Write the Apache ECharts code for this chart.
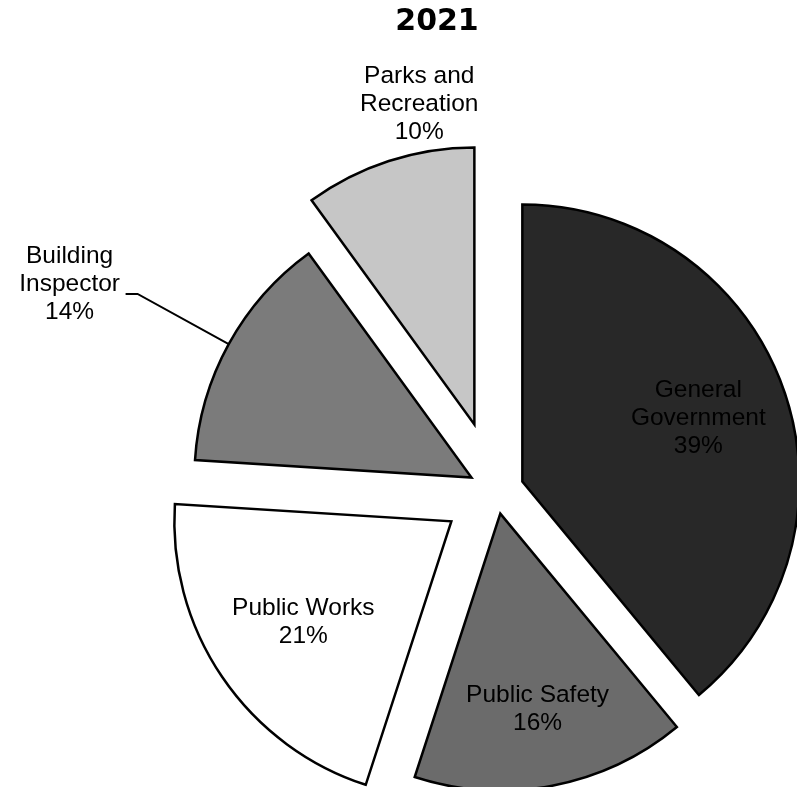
<!DOCTYPE html>
<html><head><meta charset="utf-8">
<script src="https://cdn.jsdelivr.net/npm/echarts@6/dist/echarts.min.js"></script>
<style>html,body{margin:0;padding:0;background:#fff;} #c{width:797px;height:787px;}</style>
</head><body><div id="c"></div>
<script>
// ---- data ----
const chartTitle = '2021';
const categories = ['General\nGovernment', 'Public Safety', 'Public Works', 'Building\nInspector', 'Parks and\nRecreation'];
const values = [39, 16, 21, 14, 10];

// ---- styles ----
const colors = ['#282828', '#6b6b6b', '#ffffff', '#7b7b7b', '#c6c6c6'];
const explode = [28, 23, 54, 28, 70];
const labelCfg = [
  { pos: 'inside', dist: 184 },
  { pos: 'inside', dist: 196 },
  { pos: 'inside', dist: 176 },
  { pos: 'outside', len: 104, len2: 12, width: 102, padBottom: 20, line: true },
  { pos: 'outside', len: 60, len2: -115, width: 122, padBottom: 0, line: false }
];
const CENTER = [496, 491];
const R = 277;
const FONT = '"Liberation Sans", Arial, sans-serif';
const FS = 24.5;

const chart = echarts.init(document.getElementById('c'), null, { renderer: 'canvas' });
const transparentItem = { color: 'rgba(0,0,0,0)', borderWidth: 0 };
const series = [];

categories.forEach(function (cat, i) {
  // slice series: only slice i visible, exploded by its own offset
  series.push({
    type: 'pie', center: CENTER, radius: R, startAngle: 90, clockwise: true,
    selectedMode: 'single', selectedOffset: explode[i], silent: true,
    avoidLabelOverlap: false, animation: false,
    emphasis: { disabled: true, scale: false },
    label: { show: false }, labelLine: { show: false },
    data: values.map(function (v, j) {
      return {
        name: categories[j], value: v, selected: j === i,
        itemStyle: j === i ? { color: colors[j], borderColor: '#000', borderWidth: 2.5, borderJoin: 'miter' } : transparentItem
      };
    })
  });
  // label series for slice i
  const lc = labelCfg[i];
  const inside = lc.pos === 'inside';
  const lines = function (p) { return p.name + '\n' + p.value + '%'; };
  const label = inside ? {
    show: true, position: 'inside', color: '#000', fontSize: FS, fontFamily: FONT,
    lineHeight: 28, textBorderWidth: 0, formatter: lines
  } : {
    show: true, position: 'outside', distanceToLabelLine: 5,
    padding: [0, 0, lc.padBottom, 0],
    formatter: function (p) {
      return lines(p).split('\n').map(function (s) { return '{t|' + s + '}'; }).join('\n');
    },
    rich: { t: { width: lc.width, align: 'center', fontSize: FS, lineHeight: 28, fontFamily: FONT, color: '#000' } }
  };
  series.push({
    type: 'pie', center: CENTER, radius: inside ? [2 * lc.dist - R, R] : [0, R],
    startAngle: 90, clockwise: true,
    selectedMode: 'single', selectedOffset: explode[i], silent: true,
    avoidLabelOverlap: false, animation: false,
    emphasis: { disabled: true, scale: false },
    label: label,
    labelLine: {
      show: !inside && lc.line, length: lc.len || 0, length2: lc.len2 || 0, smooth: false,
      lineStyle: { color: '#000', width: 2 }
    },
    data: values.map(function (v, j) {
      const item = { name: categories[j], value: v, selected: j === i, itemStyle: transparentItem };
      if (j !== i) { item.label = { show: false }; item.labelLine = { show: false }; }
      return item;
    })
  });
});

chart.setOption({
  backgroundColor: '#ffffff',
  animation: false,
  title: {
    text: chartTitle, left: 432, top: 2, textAlign: 'center',
    textStyle: { fontFamily: '"DejaVu Sans", sans-serif', fontWeight: 'bold', fontSize: 30, color: '#000' }
  },
  series: series
});
</script>
</body></html>
